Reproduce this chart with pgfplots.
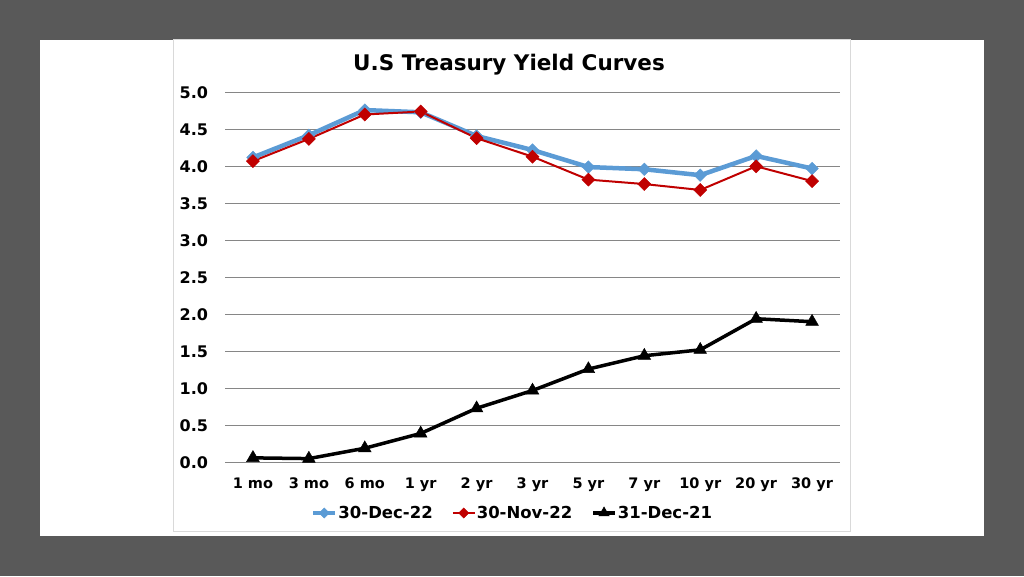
\documentclass[border=0pt]{standalone}
\usepackage{fontspec}
\setmainfont{DejaVu Sans}
\usepackage{pgfplots}
\pgfplotsset{compat=1.18}
\definecolor{bggray}{HTML}{595959}
\definecolor{bordergray}{HTML}{D9D9D9}
\definecolor{gridgray}{HTML}{868686}
\definecolor{xlblue}{HTML}{5B9BD5}
\definecolor{xlred}{HTML}{C00000}
\begin{document}
\begin{tikzpicture}[x=1pt,y=1pt]
\fill[bggray] (0,0) rectangle (1024,576);
\fill[white] (40,40) rectangle (984,536);
\draw[bordergray,line width=1pt] (173.5,44.5) rectangle (850.5,536);
\node[font=\bfseries\fontsize{21.5}{25}\selectfont] at (509,511) {U.S Treasury Yield Curves};
\begin{axis}[
  at={(225pt,113.7pt)}, anchor=south west,
  scale only axis, width=615pt, height=370pt,
  xmin=-0.5, xmax=10.5, ymin=0, ymax=5,
  xtick={0,1,2,3,4,5,6,7,8,9,10},
  xticklabels={1 mo,3 mo,6 mo,1 yr,2 yr,3 yr,5 yr,7 yr,10 yr,20 yr,30 yr},
  ytick={0,0.5,1,1.5,2,2.5,3,3.5,4,4.5,5},
  axis line style={draw=none},
  major tick length=0pt,
  ymajorgrids, grid style={gridgray,line width=1.4pt},
  tick label style={font=\bfseries\fontsize{16}{19}\selectfont},
  /pgf/number format/assume math mode=true,
  yticklabel={\pgfmathprintnumber[fixed,fixed zerofill,precision=1]{\tick}},
  yticklabel style={anchor=east, xshift=-13.5pt},
  xticklabel style={anchor=base, yshift=-26.5pt, font=\bfseries\fontsize{14.5}{17}\selectfont},
  clip=false,
  legend columns=3,
  legend style={at={(rel axis cs:0.4667,-0.137)}, anchor=center, draw=none, fill=none,
    font=\bfseries\fontsize{16.5}{19}\selectfont, inner sep=0pt,
    /tikz/every even column/.append style={column sep=18pt},
    nodes={inner sep=1pt}},
  legend image code/.code={\draw[mark repeat=2,mark phase=2] plot coordinates {(0pt,0pt) (11pt,0pt) (22pt,0pt)};},
]
\addplot[xlblue, line width=4.5pt, mark=square*, mark size=4.4pt, mark options={solid,rotate=45,line width=0.5pt},
  legend image post style={mark size=3.6pt}] coordinates {
(0,4.12) (1,4.42) (2,4.76) (3,4.73) (4,4.41) (5,4.22) (6,3.99) (7,3.96) (8,3.88) (9,4.14) (10,3.97)};
\addlegendentry{30-Dec-22}
\addplot[xlred, line width=2pt, mark=square*, mark size=4.6pt, mark options={solid,rotate=45,line width=0.5pt},
  legend image post style={mark size=3.6pt}] coordinates {
(0,4.07) (1,4.37) (2,4.70) (3,4.74) (4,4.38) (5,4.13) (6,3.82) (7,3.76) (8,3.68) (9,4.00) (10,3.80)};
\addlegendentry{30-Nov-22}
\addplot[black, line width=3.5pt, mark=triangle*, mark size=7.3pt, mark options={solid,line width=0.5pt},
  legend image post style={mark size=6pt}] coordinates {
(0,0.06) (1,0.05) (2,0.19) (3,0.39) (4,0.73) (5,0.97) (6,1.26) (7,1.44) (8,1.52) (9,1.94) (10,1.90)};
\addlegendentry{31-Dec-21}
\end{axis}
\end{tikzpicture}
\end{document}
